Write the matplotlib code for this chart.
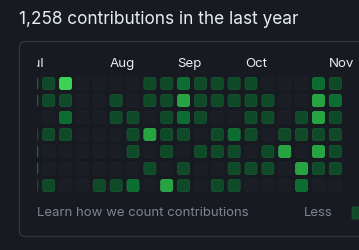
## GitHub-style contribution calendar (dark theme)

import numpy as np
import matplotlib.pyplot as plt
from matplotlib.patches import FancyBboxPatch

# Contribution level per day (rows = weekday, columns = week, first column is cut off)
weeks = np.arange(-1, 18)
levels = [
    [2, 1, 4, 0, 0, 0, 0, 1, 1, 2, 1, 1, 1, 1, 0, 0, 0, 2, 1],
    [2, 1, 1, 0, 0, 1, 0, 1, 1, 3, 1, 1, 1, 1, 1, 0, 0, 3, 2],
    [0, 0, 2, 0, 0, 1, 1, 0, 1, 2, 1, 0, 0, 1, 1, 0, 1, 3, 1],
    [1, 1, 1, 0, 0, 0, 1, 3, 1, 1, 0, 1, 2, 1, 0, 1, 1, 1, 1],
    [2, 0, 0, 0, 0, 0, 1, 0, 1, 0, 1, 1, 1, 0, 1, 3, 0, 3, 1],
    [2, 0, 0, 0, 0, 0, 0, 1, 0, 1, 0, 0, 1, 1, 1, 0, 3, 1, 1],
    [1, 1, 0, 0, 1, 1, 2, 0, 3, 1, 0, 1, 1, 0, 0, 0, 2, 0, 0],
]
month_names = ['Jul', 'Aug', 'Sep', 'Oct', 'Nov']
month_weeks = [-1, 4, 8, 12, 17]

title = '1,258 contributions in the last year'
footer = 'Learn how we count contributions'

# colours
bg = '#171a21'
palette = ['#1a1d24', '#0f4a28', '#0b6d31', '#27a442', '#3bd354']
edge = ['#1d2128', '#17552f', '#157637', '#2fae4a', '#45db5d']

W, H = 359, 250
fig = plt.figure(figsize=(W / 100, H / 100), dpi=100, facecolor=bg)
plt.rcParams['font.family'] = ['Inter', 'DejaVu Sans']

# background axes in pixel units for frame and text
ax0 = fig.add_axes([0, 0, 1, 1])
ax0.set_xlim(0, W)
ax0.set_ylim(H, 0)
ax0.axis('off')
ax0.set_facecolor(bg)

frame = FancyBboxPatch((19.5, 41.5), 400, 195, boxstyle='round,pad=0,rounding_size=6',
                       facecolor='none', edgecolor='#30363d', linewidth=0.9)
ax0.add_patch(frame)
ax0.text(19, 20, title, color='#e6edf3', fontsize=12.4, va='center', ha='left')
ax0.text(37, 213, footer, color='#7d8590', fontsize=9.5, va='center', ha='left')
ax0.text(304, 213, 'Less', color='#7d8590', fontsize=9.5, va='center', ha='left')
legend_sq = FancyBboxPatch((352, 207), 12, 12, boxstyle='round,pad=0,rounding_size=2',
                           facecolor=palette[1], edgecolor=edge[1], linewidth=0.6)
ax0.add_patch(legend_sq)

# grid axes: x in weeks, y in weekdays
px_week, px_day = 16.86, 17.0
x0_px, y0_px = 48.7, 83.5      # pixel centre of week 0 / day 0
left_px, right_px, top_px, bot_px = 37, W, 50, 197
ax = fig.add_axes([left_px / W, 1 - bot_px / H, (right_px - left_px) / W, (bot_px - top_px) / H])
ax.set_xlim((left_px - x0_px) / px_week, (right_px - x0_px) / px_week)
ax.set_ylim((bot_px - y0_px) / px_day, (top_px - y0_px) / px_day)
ax.axis('off')
ax.patch.set_alpha(0)

cw, ch = 12 / px_week, 12 / px_day
for d, row in enumerate(levels):
    for w, lv in zip(weeks, row):
        r = FancyBboxPatch((w - cw / 2, d - ch / 2), cw, ch,
                           boxstyle='round,pad=0,rounding_size=0.13',
                           facecolor=palette[lv], edgecolor=edge[lv], linewidth=0.6)
        ax.add_patch(r)

for name, w in zip(month_names, month_weeks):
    ax.text(w - cw / 2, (64 - y0_px) / px_day, name, color='#e6edf3', fontsize=9.6,
            va='center', ha='left', clip_on=True)

fig.savefig('out.png', dpi=100, facecolor=bg)
